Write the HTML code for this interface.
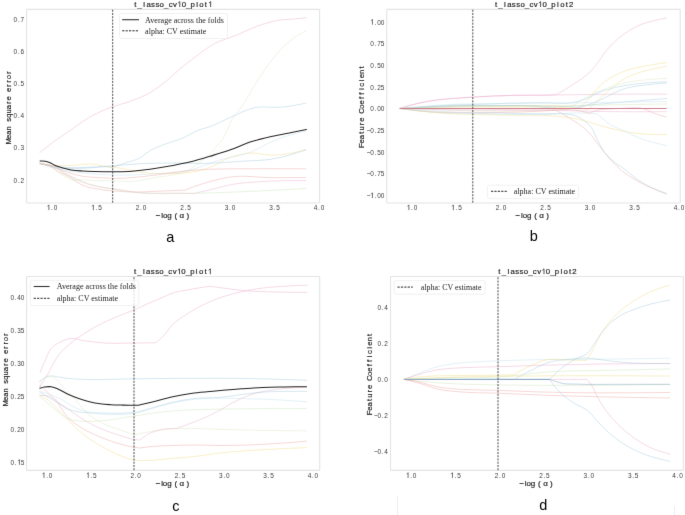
<!DOCTYPE html>
<html><head><meta charset="utf-8"><title>lasso cv plots</title>
<style>
html,body{margin:0;padding:0;background:#fff;}
body{width:685px;height:515px;overflow:hidden;font-family:"Liberation Sans",sans-serif;}
svg{display:block;will-change:transform;}
</style></head><body>
<svg width="685" height="515" viewBox="0 0 685 515">
<defs><filter id="soft" x="0" y="0" width="685" height="515" filterUnits="userSpaceOnUse" color-interpolation-filters="sRGB"><feConvolveMatrix order="3" kernelMatrix="0 1 0 1 10 1 0 1 0" divisor="14" edgeMode="duplicate"/></filter></defs>
<rect width="685" height="515" fill="#fff"/>
<g filter="url(#soft)">
<rect width="685" height="515" fill="#fff"/>
<line x1="26.60" y1="9.40" x2="319.60" y2="9.40" stroke="#e4e4e4" stroke-width="1.1"/>
<line x1="26.60" y1="9.40" x2="26.60" y2="203.00" stroke="#e4e4e4" stroke-width="1.1"/>
<line x1="319.60" y1="9.40" x2="319.60" y2="203.00" stroke="#e4e4e4" stroke-width="1.1"/>
<line x1="26.60" y1="203.00" x2="319.60" y2="203.00" stroke="#ededed" stroke-width="1.7"/>
<path d="M39.90,152.50 C45.31,148.23 50.73,143.95 56.30,139.90 C62.02,135.74 67.97,131.90 73.80,127.90 C78.90,124.40 83.76,120.49 89.10,117.40 C93.35,114.94 97.81,112.79 102.30,110.80 C105.74,109.28 109.25,107.86 112.80,106.60 C117.93,104.78 123.35,103.77 128.50,102.00 C135.59,99.56 142.45,96.43 149.30,93.30 C155.69,88.96 162.08,84.61 168.00,79.70 C172.15,76.25 175.87,72.28 180.00,68.80 C184.73,64.80 189.71,61.08 194.70,57.40 C201.15,52.63 207.46,47.44 214.50,43.70 C221.50,39.98 229.42,38.04 236.80,35.00 C243.48,32.25 249.91,28.82 256.70,26.40 C263.95,23.82 271.41,21.39 279.00,20.20 C283.93,19.43 289.01,19.47 294.00,19.00 C298.10,18.61 302.20,18.16 306.30,17.70" fill="none" stroke="#ecaccb" stroke-width="1.0" stroke-opacity="0.46" stroke-linejoin="round" stroke-linecap="round"/>
<path d="M40.00,163.60 C44.74,164.87 49.48,166.15 53.50,168.70 C55.60,170.03 57.34,171.97 59.40,173.40 C61.25,174.68 63.22,175.81 65.20,176.90 C67.09,177.94 68.99,179.18 71.00,179.80 C74.64,180.92 78.80,179.70 82.70,179.80 C86.60,179.90 90.50,180.23 94.40,180.40 C101.60,180.71 108.80,180.84 116.00,181.00 C121.67,181.13 127.36,181.63 133.00,181.30 C140.73,180.85 148.33,178.77 156.00,177.50 C163.67,176.23 171.50,175.70 179.00,173.70 C181.55,173.02 184.08,172.21 186.60,171.40 C191.88,168.02 197.17,164.64 202.00,160.70 C206.61,156.94 210.96,152.78 215.00,148.40 C217.51,145.67 220.01,142.87 222.20,139.90 C227.58,132.58 228.84,122.51 234.50,115.40 C235.99,113.53 237.77,111.85 239.30,110.00 C245.31,102.74 249.09,93.84 254.20,85.90 C259.04,78.38 263.68,70.69 269.10,63.60 C273.73,57.55 278.44,51.39 284.00,46.20 C287.85,42.61 292.00,39.22 296.40,36.30 C299.56,34.20 302.93,32.40 306.30,30.60" fill="none" stroke="#dde6c2" stroke-width="1.0" stroke-opacity="0.46" stroke-linejoin="round" stroke-linecap="round"/>
<path d="M40.00,163.60 C46.42,165.46 52.84,167.32 59.40,168.10 C65.16,168.79 71.07,168.60 76.90,168.50 C82.74,168.40 88.57,167.87 94.40,167.50 C98.27,167.25 102.14,166.50 106.00,166.70 C108.00,166.81 110.00,167.10 112.00,167.40 C116.44,165.95 120.88,164.50 125.30,163.00 C130.45,161.25 136.03,160.26 140.70,157.60 C143.99,155.73 146.64,152.68 149.90,150.70 C154.15,148.12 158.96,146.44 163.60,144.60 C169.61,142.21 176.04,140.88 182.00,138.40 C187.80,135.99 193.03,132.21 198.90,130.00 C202.51,128.64 206.36,127.89 210.00,126.60 C217.02,124.11 223.54,120.33 230.40,117.40 C238.49,113.94 246.42,109.30 254.90,107.60 C263.42,105.89 272.63,108.00 281.40,107.20 C289.59,106.45 297.69,104.83 305.80,103.20" fill="none" stroke="#a6cadf" stroke-width="1.0" stroke-opacity="0.46" stroke-linejoin="round" stroke-linecap="round"/>
<path d="M40.00,163.60 C44.49,164.21 48.99,164.83 53.50,165.20 C57.39,165.52 61.30,165.83 65.20,165.80 C69.10,165.77 73.00,165.30 76.90,165.00 C80.00,164.76 83.09,164.32 86.20,164.20 C88.93,164.09 91.70,163.88 94.40,164.20 C96.76,164.48 99.05,165.35 101.40,165.80 C106.21,166.72 111.15,166.80 116.00,167.50 C124.29,168.69 132.40,171.15 140.70,172.20 C150.81,173.47 161.10,173.89 171.30,173.70 C176.40,173.61 181.55,173.52 186.60,172.90 C194.52,171.93 202.52,170.13 210.00,167.40 C217.09,164.81 223.26,159.61 230.40,157.20 C236.92,155.01 243.95,153.44 250.80,153.10 C257.55,152.77 264.40,155.10 271.20,155.10 C277.97,155.10 284.83,154.32 291.50,153.10 C296.32,152.22 301.06,150.91 305.80,149.60" fill="none" stroke="#f0dc88" stroke-width="1.0" stroke-opacity="0.46" stroke-linejoin="round" stroke-linecap="round"/>
<path d="M40.00,163.60 C46.44,164.96 52.89,166.32 59.40,167.00 C67.10,167.80 74.94,167.61 82.70,167.50 C91.81,167.38 100.91,166.59 110.00,166.00 C120.24,165.34 130.45,164.20 140.70,163.70 C150.89,163.20 161.10,163.10 171.30,163.00 C184.20,162.88 197.12,163.73 210.00,163.30 C220.21,162.96 230.40,161.98 240.60,161.30 C250.80,160.62 261.15,160.79 271.20,159.20 C282.93,157.34 294.37,153.67 305.80,150.00" fill="none" stroke="#a6cadf" stroke-width="1.0" stroke-opacity="0.46" stroke-linejoin="round" stroke-linecap="round"/>
<path d="M40.00,163.60 C46.42,165.71 52.84,167.82 59.40,169.30 C67.04,171.03 74.90,171.87 82.70,172.80 C88.52,173.50 94.35,174.11 100.20,174.50 C105.46,174.85 110.73,175.02 116.00,175.10 C127.33,175.28 138.69,174.72 150.00,174.00 C163.37,173.15 177.01,172.96 190.00,170.00 C200.22,167.67 209.90,162.98 220.00,160.00 C230.16,157.01 240.99,155.96 250.80,152.10 C257.84,149.33 264.22,144.88 271.20,141.90 C276.53,139.62 281.98,137.56 287.50,135.80 C293.50,133.88 299.65,132.44 305.80,131.00" fill="none" stroke="#c2e0ee" stroke-width="1.0" stroke-opacity="0.46" stroke-linejoin="round" stroke-linecap="round"/>
<path d="M40.00,163.60 C43.39,163.93 46.79,164.26 50.00,165.20 C53.26,166.15 56.23,168.04 59.40,169.30 C63.21,170.82 67.08,172.23 71.00,173.40 C74.84,174.55 78.75,175.63 82.70,176.30 C86.55,176.95 90.49,177.12 94.40,177.40 C98.26,177.68 102.13,177.82 106.00,178.00 C109.33,178.15 112.67,178.37 116.00,178.40 C124.24,178.48 132.49,177.56 140.70,176.80 C150.93,175.85 161.09,174.14 171.30,172.90 C178.96,171.97 186.61,170.84 194.30,170.20 C201.18,169.63 208.10,169.34 215.00,169.10 C223.33,168.81 231.67,168.87 240.00,168.80 C261.93,168.61 283.87,168.70 305.80,168.80" fill="none" stroke="#f0a8a8" stroke-width="1.0" stroke-opacity="0.46" stroke-linejoin="round" stroke-linecap="round"/>
<path d="M40.00,163.60 C43.45,164.14 46.89,164.68 50.00,166.00 C53.40,167.44 56.16,170.31 59.40,172.20 C63.13,174.37 67.34,175.72 71.00,178.00 C73.03,179.26 74.86,180.86 76.90,182.10 C79.48,183.67 82.18,185.15 85.00,186.20 C88.00,187.32 91.24,187.86 94.40,188.50 C98.23,189.28 102.12,189.86 106.00,190.30 C109.32,190.68 112.66,190.86 116.00,191.10 C121.66,191.51 127.33,191.99 133.00,192.10 C140.66,192.25 148.33,191.59 156.00,191.30 C165.70,190.93 175.40,190.52 185.10,190.10 C188.65,188.68 192.20,187.26 195.80,186.00 C200.47,184.36 205.22,182.91 210.00,181.60 C216.72,179.76 223.54,177.98 230.40,177.00 C243.78,175.09 257.60,177.51 271.20,177.60 C282.73,177.68 294.27,177.64 305.80,177.60" fill="none" stroke="#f0a8a8" stroke-width="1.0" stroke-opacity="0.46" stroke-linejoin="round" stroke-linecap="round"/>
<path d="M40.00,163.60 C45.18,164.29 50.37,164.97 55.00,167.00 C58.63,168.59 61.71,171.43 65.20,173.40 C68.99,175.53 72.93,177.42 76.90,179.20 C80.73,180.91 84.61,182.61 88.60,183.90 C92.38,185.12 96.30,186.00 100.20,186.80 C105.41,187.87 110.73,188.32 116.00,189.10 C124.24,190.31 132.43,192.07 140.70,192.80 C150.84,193.69 161.10,193.09 171.30,193.20 C178.97,193.28 186.63,193.34 194.30,193.40 C199.54,192.22 204.78,191.04 210.00,189.80 C216.82,188.18 223.53,186.00 230.40,184.70 C240.45,182.80 250.78,182.31 261.00,181.60 C275.89,180.57 290.85,180.59 305.80,180.60" fill="none" stroke="#e6b0cc" stroke-width="1.0" stroke-opacity="0.46" stroke-linejoin="round" stroke-linecap="round"/>
<path d="M40.00,163.60 C45.18,164.49 50.36,165.37 55.00,167.50 C58.62,169.16 61.71,171.99 65.20,174.00 C68.99,176.19 72.90,178.22 76.90,180.00 C80.71,181.70 84.62,183.27 88.60,184.50 C92.39,185.67 96.30,186.52 100.20,187.30 C105.41,188.34 110.73,188.85 116.00,189.60 C124.23,190.77 132.43,192.30 140.70,193.00 C150.85,193.86 161.10,193.57 171.30,193.60 C184.20,193.64 197.10,193.24 210.00,192.90 C241.95,192.06 273.88,190.23 305.80,188.40" fill="none" stroke="#cde4ba" stroke-width="1.0" stroke-opacity="0.46" stroke-linejoin="round" stroke-linecap="round"/>
<path d="M40.10,161.10 C41.85,161.05 43.61,161.00 45.30,161.30 C46.90,161.59 48.48,162.20 50.00,162.80 C52.04,163.61 53.87,164.95 55.90,165.80 C58.16,166.75 60.54,167.44 62.90,168.10 C65.56,168.84 68.28,169.44 71.00,169.90 C74.86,170.55 78.79,170.73 82.70,171.00 C86.59,171.27 90.50,171.38 94.40,171.50 C98.27,171.62 102.13,171.65 106.00,171.70 C109.33,171.74 112.67,171.82 116.00,171.80 C120.13,171.78 124.27,171.73 128.40,171.50 C135.05,171.13 141.69,170.25 148.30,169.40 C155.99,168.41 163.67,167.18 171.30,165.80 C177.45,164.69 183.63,163.59 189.70,162.10 C193.83,161.09 197.92,159.89 202.00,158.70 C204.67,157.92 207.34,157.11 210.00,156.30 C216.83,154.22 223.68,152.18 230.40,149.80 C237.28,147.36 243.86,144.04 250.80,141.80 C257.47,139.64 264.36,138.08 271.20,136.50 C277.92,134.95 284.73,133.73 291.50,132.40 C296.50,131.42 301.50,130.46 306.50,129.50" fill="none" stroke="#262626" stroke-width="1.05" stroke-linejoin="round" stroke-linecap="round"/>
<line x1="112.7" y1="9.0" x2="112.7" y2="203.2" stroke="#4a4a4a" stroke-width="1" stroke-dasharray="2.05,1.186" stroke-dashoffset="-0.725"/>
<rect x="119.5" y="13.5" width="108.0" height="25.0" rx="2" fill="#fff" fill-opacity="0.8" stroke="#eeeeee" stroke-width="0.8"/>
<line x1="122.2" y1="19.7" x2="139.0" y2="19.7" stroke="#333" stroke-width="1.1"/>
<line x1="122.2" y1="30.8" x2="139.0" y2="30.8" stroke="#222" stroke-width="1" stroke-dasharray="2.2,1.2"/>
<text x="145.1" y="22.7" font-size="8.05" font-family="'Liberation Serif', serif" fill="#1c1c1c" textLength="78.8" lengthAdjust="spacingAndGlyphs">Average across the folds</text>
<text x="145.1" y="33.5" font-size="8.05" font-family="'Liberation Serif', serif" fill="#1c1c1c" textLength="61.3" lengthAdjust="spacingAndGlyphs">alpha: CV estimate</text>
<text x="135.35 139.76 144.16 148.57 152.98 157.38 161.79 166.19 170.60 175.00 179.41 183.81 188.22 192.63 197.03 201.44 205.84 210.25" y="7.0" font-size="7.8" font-family="'Liberation Sans', sans-serif" text-anchor="middle" fill="#1c1c1c" stroke="#1c1c1c" stroke-width="0.18">t_lasso_cv 0_plot </text><polyline points="178.16,3.10 179.80,1.62 179.80,7.00" fill="none" stroke="#1c1c1c" stroke-width="0.78" stroke-linejoin="miter"/><polyline points="209.00,3.10 210.64,1.62 210.64,7.00" fill="none" stroke="#1c1c1c" stroke-width="0.78" stroke-linejoin="miter"/>
<text x="57.12 61.18 65.24" y="210.2" font-size="7.6" font-family="'Liberation Sans', sans-serif" text-anchor="middle" fill="#3a3a3a" transform="scale(0.850,1)"> .0</text><polyline points="47.52,206.35 48.87,204.91 48.87,210.15" fill="none" stroke="#3a3a3a" stroke-width="0.72" stroke-linejoin="miter"/>
<text x="109.47 113.53 117.59" y="210.2" font-size="7.6" font-family="'Liberation Sans', sans-serif" text-anchor="middle" fill="#3a3a3a" transform="scale(0.850,1)"> .5</text><polyline points="92.02,206.35 93.37,204.91 93.37,210.15" fill="none" stroke="#3a3a3a" stroke-width="0.72" stroke-linejoin="miter"/>
<text x="161.82 165.88 169.94" y="210.2" font-size="7.6" font-family="'Liberation Sans', sans-serif" text-anchor="middle" fill="#3a3a3a" transform="scale(0.850,1)">2.0</text>
<text x="214.18 218.24 222.29" y="210.2" font-size="7.6" font-family="'Liberation Sans', sans-serif" text-anchor="middle" fill="#3a3a3a" transform="scale(0.850,1)">2.5</text>
<text x="266.53 270.59 274.65" y="210.2" font-size="7.6" font-family="'Liberation Sans', sans-serif" text-anchor="middle" fill="#3a3a3a" transform="scale(0.850,1)">3.0</text>
<text x="318.88 322.94 327.00" y="210.2" font-size="7.6" font-family="'Liberation Sans', sans-serif" text-anchor="middle" fill="#3a3a3a" transform="scale(0.850,1)">3.5</text>
<text x="371.24 375.29 379.35" y="210.2" font-size="7.6" font-family="'Liberation Sans', sans-serif" text-anchor="middle" fill="#3a3a3a" transform="scale(0.850,1)">4.0</text>
<text x="18.09 22.15 26.21" y="182.7" font-size="7.6" font-family="'Liberation Sans', sans-serif" text-anchor="middle" fill="#3a3a3a" transform="scale(0.850,1)">0.2</text>
<text x="18.09 22.15 26.21" y="150.5" font-size="7.6" font-family="'Liberation Sans', sans-serif" text-anchor="middle" fill="#3a3a3a" transform="scale(0.850,1)">0.3</text>
<text x="18.09 22.15 26.21" y="118.2" font-size="7.6" font-family="'Liberation Sans', sans-serif" text-anchor="middle" fill="#3a3a3a" transform="scale(0.850,1)">0.4</text>
<text x="18.09 22.15 26.21" y="86.1" font-size="7.6" font-family="'Liberation Sans', sans-serif" text-anchor="middle" fill="#3a3a3a" transform="scale(0.850,1)">0.5</text>
<text x="18.09 22.15 26.21" y="53.9" font-size="7.6" font-family="'Liberation Sans', sans-serif" text-anchor="middle" fill="#3a3a3a" transform="scale(0.850,1)">0.6</text>
<text x="18.09 22.15 26.21" y="21.7" font-size="7.6" font-family="'Liberation Sans', sans-serif" text-anchor="middle" fill="#3a3a3a" transform="scale(0.850,1)">0.7</text>
<text x="158.20 162.20 165.20 169.50 175.90 181.90 187.90" y="218.3" font-size="8" font-family="'Liberation Sans', sans-serif" text-anchor="middle" fill="#1c1c1c" stroke="#1c1c1c" stroke-width="0.18">−log(α)</text>
<g transform="translate(10.7,107.0) rotate(-90)"><text x="-34.21 -29.94 -25.66 -21.38 -17.11 -12.83 -8.55 -4.28 0.00 4.28 8.55 12.83 17.11 21.38 25.66 29.94 34.21" y="0.0" font-size="7.7" font-family="'Liberation Sans', sans-serif" text-anchor="middle" fill="#1c1c1c" stroke="#1c1c1c" stroke-width="0.18">Mean square error</text></g>
<text x="170.2" y="241.6" font-size="14.5" font-family="'Liberation Sans', sans-serif" text-anchor="middle" fill="#000">a</text>
<line x1="386.70" y1="9.40" x2="680.20" y2="9.40" stroke="#e4e4e4" stroke-width="1.1"/>
<line x1="386.70" y1="9.40" x2="386.70" y2="203.00" stroke="#e4e4e4" stroke-width="1.1"/>
<line x1="680.20" y1="9.40" x2="680.20" y2="203.00" stroke="#e4e4e4" stroke-width="1.1"/>
<line x1="386.70" y1="203.00" x2="680.20" y2="203.00" stroke="#ededed" stroke-width="1.7"/>
<path d="M399.80,108.50 C405.47,106.73 411.14,104.97 416.90,103.60 C424.10,101.89 431.45,100.63 438.80,99.70 C446.05,98.78 453.40,98.55 460.70,98.00 C464.70,97.70 468.70,97.37 472.70,97.10 C479.63,96.64 486.56,96.30 493.50,96.00 C500.80,95.69 508.10,95.44 515.40,95.30 C525.26,95.10 535.14,95.47 545.00,95.20 C548.67,95.10 552.33,94.95 556.00,94.80 C560.88,92.00 565.76,89.21 570.50,86.20 C574.05,83.95 577.63,81.71 581.00,79.20 C584.66,76.47 588.35,73.68 591.50,70.40 C594.07,67.73 596.24,64.65 598.50,61.70 C601.56,57.70 604.05,53.23 607.30,49.40 C610.49,45.64 614.04,42.10 617.80,38.90 C621.60,35.66 625.71,32.66 630.00,30.10 C633.91,27.76 638.04,25.63 642.30,24.00 C646.26,22.48 650.47,21.54 654.60,20.50 C658.54,19.51 662.52,18.71 666.50,17.90" fill="none" stroke="#ecaccb" stroke-width="1.0" stroke-opacity="0.46" stroke-linejoin="round" stroke-linecap="round"/>
<path d="M399.80,108.50 C405.47,106.73 411.14,104.97 416.90,103.60 C424.10,101.89 431.45,100.63 438.80,99.70 C446.05,98.78 453.40,98.55 460.70,98.00 C464.70,97.70 468.70,97.37 472.70,97.10 C479.63,96.64 486.56,96.30 493.50,96.00 C500.80,95.69 508.10,95.44 515.40,95.30 C525.26,95.10 535.13,95.28 545.00,95.20 C563.33,95.05 581.67,94.49 600.00,94.30 C622.23,94.07 644.47,94.09 666.70,94.10" fill="none" stroke="#ecaccb" stroke-width="1.0" stroke-opacity="0.46" stroke-linejoin="round" stroke-linecap="round"/>
<path d="M399.80,108.50 C409.87,108.13 419.93,107.75 430.00,107.50 C453.32,106.91 476.67,106.97 500.00,107.00 C520.00,107.02 540.04,106.35 560.00,107.50 C566.00,107.84 572.00,108.32 578.00,108.80 C581.45,105.98 584.90,103.16 588.00,100.00 C591.87,96.05 594.54,90.92 598.50,87.10 C602.69,83.06 607.55,79.50 612.60,76.60 C617.00,74.08 621.79,72.04 626.60,70.40 C631.14,68.85 635.90,67.92 640.60,66.90 C645.24,65.89 649.92,65.06 654.60,64.30 C658.55,63.66 662.53,63.13 666.50,62.60" fill="none" stroke="#f0dc88" stroke-width="1.0" stroke-opacity="0.46" stroke-linejoin="round" stroke-linecap="round"/>
<path d="M399.80,108.50 C409.86,107.74 419.93,106.99 430.00,106.50 C453.30,105.37 476.67,105.92 500.00,106.00 C523.33,106.08 546.84,104.38 570.00,107.00 C576.01,107.68 582.01,108.59 588.00,109.50 C591.50,106.34 595.01,103.17 598.50,100.00 C603.21,95.72 607.62,91.04 612.60,87.10 C617.04,83.58 621.58,79.96 626.60,77.40 C631.00,75.15 635.85,73.67 640.60,72.20 C645.19,70.78 649.90,69.73 654.60,68.70 C658.55,67.84 662.52,67.12 666.50,66.40" fill="none" stroke="#f0dc88" stroke-width="1.0" stroke-opacity="0.46" stroke-linejoin="round" stroke-linecap="round"/>
<path d="M399.80,108.50 C413.20,109.06 426.60,109.61 440.00,110.00 C466.66,110.77 493.34,111.24 520.00,111.00 C535.53,110.86 551.07,110.43 566.60,110.00 C574.56,104.52 582.51,99.04 591.10,94.80 C598.00,91.40 605.26,88.52 612.60,86.20 C618.29,84.40 624.13,82.89 630.00,81.80 C635.80,80.73 641.72,80.27 647.60,79.70 C653.89,79.09 660.19,78.69 666.50,78.30" fill="none" stroke="#dde6c2" stroke-width="1.0" stroke-opacity="0.46" stroke-linejoin="round" stroke-linecap="round"/>
<path d="M399.80,108.50 C405.50,108.14 411.20,107.79 416.90,107.40 C424.20,106.90 431.49,106.23 438.80,105.80 C450.09,105.13 461.40,104.89 472.70,104.50 C496.79,103.67 520.90,102.48 545.00,102.60 C553.33,102.64 561.81,104.20 570.00,103.00 C574.31,102.37 578.63,101.29 582.80,100.00 C590.10,97.75 596.55,93.03 603.80,90.60 C609.48,88.70 615.41,87.37 621.30,86.20 C627.08,85.05 632.95,84.28 638.80,83.60 C647.98,82.54 657.24,82.17 666.50,81.80" fill="none" stroke="#a6cadf" stroke-width="1.0" stroke-opacity="0.46" stroke-linejoin="round" stroke-linecap="round"/>
<path d="M399.80,108.50 C413.20,107.75 426.59,107.00 440.00,106.50 C466.65,105.51 493.33,105.54 520.00,105.50 C541.67,105.47 564.57,112.41 585.00,106.00 C590.08,104.41 595.04,102.09 600.00,100.00 C608.45,96.44 616.26,91.04 625.00,88.50 C631.45,86.63 638.30,85.91 645.00,85.00 C652.13,84.04 659.31,83.52 666.50,83.00" fill="none" stroke="#a6cadf" stroke-width="1.0" stroke-opacity="0.46" stroke-linejoin="round" stroke-linecap="round"/>
<path d="M399.80,108.50 C413.20,107.75 426.59,107.00 440.00,106.50 C466.65,105.51 493.33,105.52 520.00,105.50 C540.00,105.49 560.07,107.45 580.00,106.00 C586.67,105.51 593.33,104.62 600.00,104.00 C609.99,103.07 620.00,102.33 630.00,101.50 C642.23,100.49 654.47,99.49 666.70,98.50" fill="none" stroke="#a6cadf" stroke-width="1.0" stroke-opacity="0.46" stroke-linejoin="round" stroke-linecap="round"/>
<path d="M399.80,108.50 C413.19,107.18 426.58,105.86 440.00,105.00 C466.60,103.29 493.33,103.92 520.00,103.50 C546.67,103.08 573.33,102.87 600.00,102.50 C622.23,102.19 644.47,101.85 666.70,101.50" fill="none" stroke="#c2e0ee" stroke-width="1.0" stroke-opacity="0.46" stroke-linejoin="round" stroke-linecap="round"/>
<path d="M399.80,108.50 C413.20,107.95 426.60,107.40 440.00,107.00 C473.32,106.02 506.67,106.47 540.00,106.00 C560.00,105.72 580.00,105.32 600.00,105.00 C622.23,104.65 644.47,104.32 666.70,104.00" fill="none" stroke="#cde4ba" stroke-width="1.0" stroke-opacity="0.46" stroke-linejoin="round" stroke-linecap="round"/>
<path d="M399.80,108.50 C405.49,109.30 411.19,110.10 416.90,110.70 C435.39,112.65 454.10,112.23 472.70,112.40 C488.46,112.55 504.24,112.48 520.00,112.00 C532.01,111.63 544.00,110.97 556.00,110.30 C561.31,113.21 566.62,116.13 571.70,119.40 C575.90,122.10 580.23,124.74 584.00,128.00 C586.66,130.30 589.17,132.85 591.50,135.50 C594.24,138.62 596.45,142.20 599.00,145.50 C602.26,149.72 605.46,154.02 609.00,158.00 C612.91,162.39 616.97,166.78 621.50,170.50 C626.12,174.30 631.31,177.50 636.50,180.50 C641.33,183.29 646.36,185.82 651.50,188.00 C656.34,190.05 661.37,191.68 666.40,193.30" fill="none" stroke="#f0a8a8" stroke-width="1.0" stroke-opacity="0.46" stroke-linejoin="round" stroke-linecap="round"/>
<path d="M399.80,108.50 C409.86,109.82 419.91,111.14 430.00,112.00 C453.23,113.97 476.67,112.62 500.00,113.00 C515.00,113.25 530.00,113.88 545.00,113.80 C550.00,113.77 555.03,113.26 560.00,113.60 C565.88,114.00 572.22,114.08 577.50,116.50 C580.21,117.75 582.84,119.50 585.20,121.40 C587.34,123.12 589.42,125.06 591.10,127.20 C593.74,130.56 594.87,134.99 596.90,138.80 C599.36,143.41 601.52,148.31 604.70,152.40 C607.49,155.98 610.89,159.19 614.40,162.10 C617.43,164.61 620.92,166.56 624.10,168.90 C628.75,172.31 632.92,176.40 637.70,179.60 C642.03,182.50 646.65,185.02 651.30,187.40 C656.21,189.91 661.30,192.06 666.40,194.20" fill="none" stroke="#a6cadf" stroke-width="1.0" stroke-opacity="0.46" stroke-linejoin="round" stroke-linecap="round"/>
<path d="M399.80,108.50 C413.18,110.21 426.57,111.92 440.00,113.00 C459.93,114.60 480.00,114.42 500.00,115.00 C520.00,115.58 540.16,114.15 560.00,116.50 C566.48,117.27 573.03,117.99 579.40,119.40 C585.97,120.86 592.29,123.41 598.80,125.20 C605.26,126.98 611.75,128.72 618.30,130.10 C624.71,131.45 631.20,132.64 637.70,133.40 C647.19,134.52 656.80,134.56 666.40,134.60" fill="none" stroke="#f0dc88" stroke-width="1.0" stroke-opacity="0.46" stroke-linejoin="round" stroke-linecap="round"/>
<path d="M399.80,108.50 C416.53,109.79 433.25,111.08 450.00,112.00 C481.62,113.73 513.35,115.27 545.00,114.50 C556.67,114.22 568.33,112.88 580.00,113.00 C585.63,113.06 591.27,113.33 596.90,113.60 C600.62,117.06 604.34,120.52 608.50,123.30 C613.30,126.50 618.84,128.62 624.10,131.10 C629.86,133.81 635.63,136.61 641.60,138.80 C649.63,141.75 658.01,143.67 666.40,145.60" fill="none" stroke="#c2e0ee" stroke-width="1.0" stroke-opacity="0.46" stroke-linejoin="round" stroke-linecap="round"/>
<path d="M399.80,108.50 C433.20,108.63 466.60,108.76 500.00,109.00 C520.00,109.14 540.03,108.53 560.00,109.50 C566.47,109.82 573.06,109.50 579.40,110.70 C582.67,111.32 585.88,112.26 589.10,113.20 C592.33,112.03 595.57,110.87 598.80,109.70 C605.86,109.19 612.93,108.68 620.00,108.50 C627.83,108.30 636.07,106.69 643.50,108.70 C647.48,109.78 651.16,112.17 655.10,113.60 C658.80,114.94 662.60,116.02 666.40,117.10" fill="none" stroke="#f0a8a8" stroke-width="1.0" stroke-opacity="0.46" stroke-linejoin="round" stroke-linecap="round"/>
<path d="M399.80,108.50 C419.87,109.08 439.93,109.65 460.00,110.00 C493.33,110.58 526.67,109.86 560.00,110.50 C573.33,110.76 586.67,111.28 600.00,111.50 C622.23,111.87 644.46,111.79 666.70,111.70" fill="none" stroke="#e6b0cc" stroke-width="1.0" stroke-opacity="0.46" stroke-linejoin="round" stroke-linecap="round"/>
<line x1="399.8" y1="108.5" x2="666.7" y2="108.5" stroke="#cf7f90" stroke-width="1.1" stroke-opacity="1.0"/>
<line x1="472.8" y1="9.0" x2="472.8" y2="203.2" stroke="#4a4a4a" stroke-width="1" stroke-dasharray="2.05,1.186" stroke-dashoffset="-0.725"/>
<rect x="487.5" y="185.2" width="91.0" height="13.5" rx="2" fill="#fff" fill-opacity="0.8" stroke="#eeeeee" stroke-width="0.8"/>
<line x1="491.0" y1="191.3" x2="506.8" y2="191.3" stroke="#222" stroke-width="1" stroke-dasharray="2.2,1.2"/>
<text x="513.8" y="194.2" font-size="8.05" font-family="'Liberation Serif', serif" fill="#1c1c1c" textLength="61.3" lengthAdjust="spacingAndGlyphs">alpha: CV estimate</text>
<text x="496.06 500.48 504.89 509.31 513.73 518.14 522.56 526.98 531.39 535.81 540.23 544.64 549.06 553.48 557.89 562.31 566.73 571.14" y="7.0" font-size="7.8" font-family="'Liberation Sans', sans-serif" text-anchor="middle" fill="#1c1c1c" stroke="#1c1c1c" stroke-width="0.18">t_lasso_cv 0_plot2</text><polyline points="538.98,3.10 540.62,1.62 540.62,7.00" fill="none" stroke="#1c1c1c" stroke-width="0.78" stroke-linejoin="miter"/>
<text x="480.65 484.71 488.76" y="210.2" font-size="7.6" font-family="'Liberation Sans', sans-serif" text-anchor="middle" fill="#3a3a3a" transform="scale(0.850,1)"> .0</text><polyline points="407.52,206.35 408.87,204.91 408.87,210.15" fill="none" stroke="#3a3a3a" stroke-width="0.72" stroke-linejoin="miter"/>
<text x="533.00 537.06 541.12" y="210.2" font-size="7.6" font-family="'Liberation Sans', sans-serif" text-anchor="middle" fill="#3a3a3a" transform="scale(0.850,1)"> .5</text><polyline points="452.02,206.35 453.37,204.91 453.37,210.15" fill="none" stroke="#3a3a3a" stroke-width="0.72" stroke-linejoin="miter"/>
<text x="585.35 589.41 593.47" y="210.2" font-size="7.6" font-family="'Liberation Sans', sans-serif" text-anchor="middle" fill="#3a3a3a" transform="scale(0.850,1)">2.0</text>
<text x="637.71 641.76 645.82" y="210.2" font-size="7.6" font-family="'Liberation Sans', sans-serif" text-anchor="middle" fill="#3a3a3a" transform="scale(0.850,1)">2.5</text>
<text x="690.06 694.12 698.18" y="210.2" font-size="7.6" font-family="'Liberation Sans', sans-serif" text-anchor="middle" fill="#3a3a3a" transform="scale(0.850,1)">3.0</text>
<text x="742.41 746.47 750.53" y="210.2" font-size="7.6" font-family="'Liberation Sans', sans-serif" text-anchor="middle" fill="#3a3a3a" transform="scale(0.850,1)">3.5</text>
<text x="794.76 798.82 802.88" y="210.2" font-size="7.6" font-family="'Liberation Sans', sans-serif" text-anchor="middle" fill="#3a3a3a" transform="scale(0.850,1)">4.0</text>
<text x="437.79 441.85 445.91 449.97" y="24.6" font-size="7.6" font-family="'Liberation Sans', sans-serif" text-anchor="middle" fill="#3a3a3a" transform="scale(0.850,1)"> .00</text><polyline points="371.09,20.85 372.45,19.41 372.45,24.65" fill="none" stroke="#3a3a3a" stroke-width="0.72" stroke-linejoin="miter"/>
<text x="437.79 441.85 445.91 449.97" y="46.3" font-size="7.6" font-family="'Liberation Sans', sans-serif" text-anchor="middle" fill="#3a3a3a" transform="scale(0.850,1)">0.75</text>
<text x="437.79 441.85 445.91 449.97" y="68.0" font-size="7.6" font-family="'Liberation Sans', sans-serif" text-anchor="middle" fill="#3a3a3a" transform="scale(0.850,1)">0.50</text>
<text x="437.79 441.85 445.91 449.97" y="89.7" font-size="7.6" font-family="'Liberation Sans', sans-serif" text-anchor="middle" fill="#3a3a3a" transform="scale(0.850,1)">0.25</text>
<text x="437.79 441.85 445.91 449.97" y="111.4" font-size="7.6" font-family="'Liberation Sans', sans-serif" text-anchor="middle" fill="#3a3a3a" transform="scale(0.850,1)">0.00</text>
<text x="433.74 437.79 441.85 445.91 449.97" y="133.0" font-size="7.6" font-family="'Liberation Sans', sans-serif" text-anchor="middle" fill="#3a3a3a" transform="scale(0.850,1)">−0.25</text>
<text x="433.74 437.79 441.85 445.91 449.97" y="154.7" font-size="7.6" font-family="'Liberation Sans', sans-serif" text-anchor="middle" fill="#3a3a3a" transform="scale(0.850,1)">−0.50</text>
<text x="433.74 437.79 441.85 445.91 449.97" y="176.4" font-size="7.6" font-family="'Liberation Sans', sans-serif" text-anchor="middle" fill="#3a3a3a" transform="scale(0.850,1)">−0.75</text>
<text x="433.74 437.79 441.85 445.91 449.97" y="198.1" font-size="7.6" font-family="'Liberation Sans', sans-serif" text-anchor="middle" fill="#3a3a3a" transform="scale(0.850,1)">− .00</text><polyline points="371.09,194.25 372.45,192.81 372.45,198.05" fill="none" stroke="#3a3a3a" stroke-width="0.72" stroke-linejoin="miter"/>
<text x="517.95 521.95 524.95 529.25 535.65 541.65 547.65" y="218.3" font-size="8" font-family="'Liberation Sans', sans-serif" text-anchor="middle" fill="#1c1c1c" stroke="#1c1c1c" stroke-width="0.18">−log(α)</text>
<g transform="translate(364.0,106.6) rotate(-90)"><text x="-39.13 -34.78 -30.43 -26.08 -21.74 -17.39 -13.04 -8.69 -4.35 0.00 4.35 8.69 13.04 17.39 21.74 26.08 30.43 34.78 39.13" y="0.0" font-size="7.7" font-family="'Liberation Sans', sans-serif" text-anchor="middle" fill="#1c1c1c" stroke="#1c1c1c" stroke-width="0.18">Feature Coefficient</text></g>
<text x="533.8" y="240.6" font-size="14.5" font-family="'Liberation Sans', sans-serif" text-anchor="middle" fill="#000">b</text>
<line x1="26.60" y1="276.50" x2="319.70" y2="276.50" stroke="#e4e4e4" stroke-width="1.1"/>
<line x1="26.60" y1="276.50" x2="26.60" y2="470.40" stroke="#e4e4e4" stroke-width="1.1"/>
<line x1="319.70" y1="276.50" x2="319.70" y2="470.40" stroke="#e4e4e4" stroke-width="1.1"/>
<line x1="26.60" y1="470.40" x2="319.70" y2="470.40" stroke="#e4e4e4" stroke-width="1.1"/>
<path d="M39.90,386.50 C42.30,383.06 44.69,379.61 46.80,376.00 C48.69,372.76 50.17,369.28 52.00,366.00 C54.13,362.19 56.15,358.23 58.80,354.80 C61.93,350.74 65.90,347.25 69.80,343.90 C74.55,339.82 79.82,336.28 85.10,332.90 C90.72,329.31 96.62,326.07 102.60,323.10 C108.33,320.26 114.29,317.86 120.20,315.40 C124.77,313.50 129.44,311.82 134.00,309.90 C138.91,307.83 143.71,305.50 148.60,303.40 C152.98,301.52 157.46,299.86 161.80,297.90 C164.56,296.65 167.20,295.12 170.00,294.00 C176.91,291.24 184.55,290.48 191.90,289.10 C197.70,288.01 203.55,287.15 209.40,286.30 C215.23,287.03 221.07,287.77 226.90,288.50 C232.73,289.23 238.55,290.16 244.40,290.70 C252.40,291.43 260.46,291.53 268.50,291.80 C273.63,291.97 278.77,292.10 283.90,292.20 C291.57,292.35 299.23,292.37 306.90,292.40" fill="none" stroke="#ecaccb" stroke-width="1.0" stroke-opacity="0.46" stroke-linejoin="round" stroke-linecap="round"/>
<path d="M40.20,372.30 C41.57,368.84 42.95,365.38 44.50,362.00 C46.83,356.94 48.39,350.92 52.30,347.20 C54.70,344.91 57.92,343.13 61.00,341.70 C64.44,340.10 68.29,338.56 72.00,338.40 C75.59,338.25 79.24,340.02 82.90,340.60 C85.82,341.06 88.76,341.36 91.70,341.70 C96.79,342.29 101.89,342.93 107.00,343.20 C112.82,343.50 118.67,343.23 124.50,343.20 C134.93,343.15 145.37,342.98 155.80,342.80 C159.45,339.69 163.11,336.58 166.10,332.90 C167.50,331.18 168.61,329.21 170.00,327.50 C175.73,320.46 184.13,315.75 191.90,311.00 C198.83,306.77 206.26,303.14 213.80,300.10 C220.89,297.24 228.29,295.02 235.70,293.10 C242.90,291.24 250.25,289.80 257.60,288.70 C264.85,287.61 272.19,287.06 279.50,286.50 C288.61,285.80 297.76,285.50 306.90,285.20" fill="none" stroke="#ecaccb" stroke-width="1.0" stroke-opacity="0.46" stroke-linejoin="round" stroke-linecap="round"/>
<path d="M39.50,381.20 C42.58,378.89 45.67,376.57 49.10,376.00 C51.88,375.54 54.98,376.51 57.90,376.90 C60.61,377.26 63.29,377.85 66.00,378.20 C70.21,378.74 74.46,378.93 78.70,379.20 C97.19,380.36 115.77,378.93 134.30,378.80 C162.87,378.60 191.43,378.00 220.00,378.20 C234.23,378.30 248.47,378.46 262.70,378.80 C277.30,379.15 291.90,379.73 306.50,380.30" fill="none" stroke="#a6cadf" stroke-width="1.0" stroke-opacity="0.46" stroke-linejoin="round" stroke-linecap="round"/>
<path d="M39.80,383.00 C41.26,380.86 42.72,378.72 44.70,377.70 C47.12,376.45 50.90,376.30 53.50,377.30 C55.09,377.91 56.61,379.19 57.90,380.40 C59.68,382.08 60.66,384.56 62.20,386.50 C65.74,390.98 70.63,394.29 74.50,398.50 C78.25,402.57 81.10,407.53 85.10,411.30 C89.53,415.48 94.79,419.01 100.10,422.00 C106.74,425.74 114.28,427.91 121.50,430.50 C125.74,432.02 130.02,433.41 134.30,434.80 C147.05,432.23 159.80,429.67 172.70,428.80 C179.80,428.32 186.97,428.35 194.10,428.40 C202.74,428.46 211.37,429.11 220.00,429.40 C248.82,430.37 277.66,430.64 306.50,430.90" fill="none" stroke="#dde6c2" stroke-width="1.0" stroke-opacity="0.46" stroke-linejoin="round" stroke-linecap="round"/>
<path d="M39.60,386.00 C42.01,387.79 44.41,389.57 46.70,391.50 C49.67,394.01 52.57,396.66 55.20,399.50 C60.21,404.92 62.78,412.53 68.00,417.70 C71.21,420.87 74.95,423.66 78.70,426.20 C85.27,430.65 92.76,433.81 100.10,436.90 C107.05,439.83 114.21,442.46 121.50,444.40 C125.71,445.52 130.00,446.47 134.30,447.20 C136.06,447.50 137.83,447.75 139.60,448.00 C143.53,447.44 147.46,446.89 151.40,446.50 C158.47,445.81 165.60,445.75 172.70,445.50 C179.83,445.25 186.97,445.03 194.10,445.00 C202.73,444.96 211.37,445.48 220.00,445.50 C234.23,445.53 248.48,445.10 262.70,444.40 C277.32,443.68 291.91,442.44 306.50,441.20" fill="none" stroke="#f0a8a8" stroke-width="1.0" stroke-opacity="0.46" stroke-linejoin="round" stroke-linecap="round"/>
<path d="M39.80,395.30 C42.92,396.91 46.04,398.52 48.80,400.60 C51.99,403.01 54.55,406.25 57.40,409.10 C60.95,412.65 64.46,416.24 68.00,419.80 C71.56,423.38 74.93,427.18 78.70,430.50 C85.22,436.23 92.62,441.08 100.10,445.50 C106.95,449.55 114.08,453.32 121.50,456.20 C125.68,457.82 129.99,459.11 134.30,460.40 C140.01,460.52 145.71,460.65 151.40,460.40 C158.52,460.09 165.59,458.93 172.70,458.30 C179.83,457.67 186.99,457.36 194.10,456.60 C202.76,455.68 211.35,454.00 220.00,453.00 C234.18,451.36 248.45,450.59 262.70,449.70 C277.29,448.78 291.89,448.19 306.50,447.60" fill="none" stroke="#f0dc88" stroke-width="1.0" stroke-opacity="0.46" stroke-linejoin="round" stroke-linecap="round"/>
<path d="M39.80,395.30 C42.90,395.33 46.01,395.37 48.80,396.30 C51.93,397.35 54.57,399.84 57.40,401.70 C61.00,404.07 64.47,406.63 68.00,409.10 C71.57,411.60 75.05,414.24 78.70,416.60 C85.53,421.02 92.68,425.11 100.10,428.40 C106.99,431.45 114.32,433.55 121.50,435.90 C124.33,436.82 127.12,437.91 130.00,438.60 C133.14,439.35 136.37,439.73 139.60,440.10 C143.39,437.28 147.17,434.46 151.40,432.60 C154.75,431.13 158.40,430.12 162.00,429.40 C166.88,428.42 171.94,428.41 177.00,428.40 C182.72,426.31 188.43,424.22 194.10,422.00 C197.68,420.60 201.29,419.27 204.80,417.70 C208.43,416.08 211.93,414.15 215.50,412.40 C217.00,411.66 218.52,410.97 220.00,410.20 C223.69,408.29 227.05,405.79 230.70,403.80 C234.19,401.90 237.77,400.13 241.40,398.50 C244.88,396.94 248.40,395.40 252.00,394.20 C258.88,391.91 266.22,391.01 273.40,389.90 C284.33,388.21 295.41,387.66 306.50,387.10" fill="none" stroke="#e6b0cc" stroke-width="1.0" stroke-opacity="0.46" stroke-linejoin="round" stroke-linecap="round"/>
<path d="M39.80,392.00 C45.66,395.57 51.53,399.14 57.40,402.70 C60.93,404.84 64.22,407.54 68.00,409.10 C71.37,410.49 75.09,411.22 78.70,411.90 C85.69,413.22 92.96,412.82 100.10,413.00 C111.49,413.28 122.98,413.72 134.30,412.40 C136.07,412.19 137.83,411.95 139.60,411.70 C143.53,410.48 147.45,409.26 151.40,408.10 C158.46,406.03 165.53,403.91 172.70,402.30 C179.76,400.72 186.92,399.33 194.10,398.50 C202.67,397.51 211.40,398.18 220.00,397.40 C227.16,396.75 234.26,395.49 241.40,394.60 C248.49,393.72 255.58,392.63 262.70,392.10 C269.81,391.57 276.96,391.52 284.10,391.40 C291.56,391.28 299.03,391.34 306.50,391.40" fill="none" stroke="#a6cadf" stroke-width="1.0" stroke-opacity="0.46" stroke-linejoin="round" stroke-linecap="round"/>
<path d="M39.80,391.00 C45.75,392.94 51.71,394.89 57.40,397.40 C64.79,400.66 71.18,406.30 78.70,409.10 C85.49,411.63 92.89,413.05 100.10,414.00 C111.33,415.48 122.81,414.49 134.30,413.50 C140.00,411.85 145.69,410.20 151.40,408.60 C158.49,406.61 165.52,404.36 172.70,402.80 C179.75,401.27 186.92,400.07 194.10,399.30 C201.03,398.56 208.03,398.36 215.00,398.20 C223.33,398.01 231.67,398.34 240.00,398.50 C247.57,398.65 255.14,398.82 262.70,399.10 C277.31,399.65 291.91,400.68 306.50,401.70" fill="none" stroke="#c2e0ee" stroke-width="1.0" stroke-opacity="0.46" stroke-linejoin="round" stroke-linecap="round"/>
<path d="M39.80,396.30 C45.53,401.48 51.26,406.65 57.40,411.30 C60.85,413.91 64.08,417.21 68.00,418.80 C71.29,420.14 75.11,420.44 78.70,420.90 C85.74,421.81 92.99,421.29 100.10,420.90 C111.57,420.28 122.91,417.70 134.30,416.00 C140.00,415.15 145.69,414.18 151.40,413.40 C158.48,412.43 165.58,411.50 172.70,410.90 C179.81,410.30 186.96,410.09 194.10,409.80 C202.73,409.45 211.37,409.29 220.00,409.10 C248.83,408.47 277.66,408.58 306.50,408.70" fill="none" stroke="#cde4ba" stroke-width="1.0" stroke-opacity="0.46" stroke-linejoin="round" stroke-linecap="round"/>
<path d="M39.80,388.20 C41.36,387.78 42.92,387.35 44.50,387.10 C46.64,386.76 48.88,386.44 51.00,386.70 C53.19,386.97 55.31,387.98 57.40,388.80 C61.08,390.24 64.39,392.56 68.00,394.20 C71.50,395.79 75.07,397.24 78.70,398.50 C82.21,399.72 85.79,400.81 89.40,401.70 C92.92,402.57 96.51,403.30 100.10,403.80 C103.64,404.29 107.23,404.48 110.80,404.70 C114.36,404.92 117.93,404.99 121.50,405.10 C124.33,405.18 127.17,405.27 130.00,405.30 C132.67,405.33 135.33,405.32 138.00,405.30 C142.47,404.33 146.95,403.36 151.40,402.30 C158.53,400.61 165.54,398.34 172.70,396.80 C179.77,395.28 186.93,394.07 194.10,393.10 C201.20,392.14 208.36,391.66 215.50,391.00 C224.13,390.20 232.76,389.44 241.40,388.80 C248.50,388.27 255.59,387.72 262.70,387.40 C269.83,387.08 276.97,387.02 284.10,386.90 C291.57,386.78 299.03,386.74 306.50,386.70" fill="none" stroke="#262626" stroke-width="1.05" stroke-linejoin="round" stroke-linecap="round"/>
<line x1="134.0" y1="276.0" x2="134.0" y2="470.6" stroke="#4a4a4a" stroke-width="1" stroke-dasharray="2.05,1.186" stroke-dashoffset="-1.250"/>
<rect x="30.4" y="280.4" width="108.4" height="25.2" rx="2" fill="#fff" fill-opacity="0.8" stroke="#eeeeee" stroke-width="0.8"/>
<line x1="33.7" y1="286.5" x2="49.6" y2="286.5" stroke="#333" stroke-width="1.1"/>
<line x1="33.7" y1="298.3" x2="49.6" y2="298.3" stroke="#222" stroke-width="1" stroke-dasharray="2.2,1.2"/>
<text x="56.7" y="289.4" font-size="8.05" font-family="'Liberation Serif', serif" fill="#1c1c1c" textLength="79.3" lengthAdjust="spacingAndGlyphs">Average across the folds</text>
<text x="56.7" y="301.1" font-size="8.05" font-family="'Liberation Serif', serif" fill="#1c1c1c" textLength="61.3" lengthAdjust="spacingAndGlyphs">alpha: CV estimate</text>
<text x="135.05 139.46 143.86 148.27 152.68 157.08 161.49 165.89 170.30 174.70 179.11 183.51 187.92 192.33 196.73 201.14 205.54 209.95" y="274.2" font-size="7.8" font-family="'Liberation Sans', sans-serif" text-anchor="middle" fill="#1c1c1c" stroke="#1c1c1c" stroke-width="0.18">t_lasso_cv 0_plot </text><polyline points="177.86,270.30 179.50,268.82 179.50,274.20" fill="none" stroke="#1c1c1c" stroke-width="0.78" stroke-linejoin="miter"/><polyline points="208.70,270.30 210.34,268.82 210.34,274.20" fill="none" stroke="#1c1c1c" stroke-width="0.78" stroke-linejoin="miter"/>
<text x="51.35 55.41 59.47" y="477.9" font-size="7.6" font-family="'Liberation Sans', sans-serif" text-anchor="middle" fill="#3a3a3a" transform="scale(0.850,1)"> .0</text><polyline points="42.62,474.15 43.97,472.71 43.97,477.95" fill="none" stroke="#3a3a3a" stroke-width="0.72" stroke-linejoin="miter"/>
<text x="103.47 107.53 111.59" y="477.9" font-size="7.6" font-family="'Liberation Sans', sans-serif" text-anchor="middle" fill="#3a3a3a" transform="scale(0.850,1)"> .5</text><polyline points="86.92,474.15 88.27,472.71 88.27,477.95" fill="none" stroke="#3a3a3a" stroke-width="0.72" stroke-linejoin="miter"/>
<text x="155.59 159.65 163.71" y="477.9" font-size="7.6" font-family="'Liberation Sans', sans-serif" text-anchor="middle" fill="#3a3a3a" transform="scale(0.850,1)">2.0</text>
<text x="207.71 211.76 215.82" y="477.9" font-size="7.6" font-family="'Liberation Sans', sans-serif" text-anchor="middle" fill="#3a3a3a" transform="scale(0.850,1)">2.5</text>
<text x="259.82 263.88 267.94" y="477.9" font-size="7.6" font-family="'Liberation Sans', sans-serif" text-anchor="middle" fill="#3a3a3a" transform="scale(0.850,1)">3.0</text>
<text x="311.94 316.00 320.06" y="477.9" font-size="7.6" font-family="'Liberation Sans', sans-serif" text-anchor="middle" fill="#3a3a3a" transform="scale(0.850,1)">3.5</text>
<text x="364.06 368.12 372.18" y="477.9" font-size="7.6" font-family="'Liberation Sans', sans-serif" text-anchor="middle" fill="#3a3a3a" transform="scale(0.850,1)">4.0</text>
<text x="14.38 18.44 22.50 26.56" y="464.8" font-size="7.6" font-family="'Liberation Sans', sans-serif" text-anchor="middle" fill="#3a3a3a" transform="scale(0.850,1)">0. 5</text><polyline points="18.09,461.05 19.45,459.61 19.45,464.85" fill="none" stroke="#3a3a3a" stroke-width="0.72" stroke-linejoin="miter"/>
<text x="14.38 18.44 22.50 26.56" y="431.8" font-size="7.6" font-family="'Liberation Sans', sans-serif" text-anchor="middle" fill="#3a3a3a" transform="scale(0.850,1)">0.20</text>
<text x="14.38 18.44 22.50 26.56" y="398.8" font-size="7.6" font-family="'Liberation Sans', sans-serif" text-anchor="middle" fill="#3a3a3a" transform="scale(0.850,1)">0.25</text>
<text x="14.38 18.44 22.50 26.56" y="365.8" font-size="7.6" font-family="'Liberation Sans', sans-serif" text-anchor="middle" fill="#3a3a3a" transform="scale(0.850,1)">0.30</text>
<text x="14.38 18.44 22.50 26.56" y="332.9" font-size="7.6" font-family="'Liberation Sans', sans-serif" text-anchor="middle" fill="#3a3a3a" transform="scale(0.850,1)">0.35</text>
<text x="14.38 18.44 22.50 26.56" y="299.8" font-size="7.6" font-family="'Liberation Sans', sans-serif" text-anchor="middle" fill="#3a3a3a" transform="scale(0.850,1)">0.40</text>
<text x="158.10 162.10 165.10 169.40 175.80 181.80 187.80" y="486.3" font-size="8" font-family="'Liberation Sans', sans-serif" text-anchor="middle" fill="#1c1c1c" stroke="#1c1c1c" stroke-width="0.18">−log(α)</text>
<g transform="translate(7.8,369.0) rotate(-90)"><text x="-34.26 -29.98 -25.69 -21.41 -17.13 -12.85 -8.56 -4.28 0.00 4.28 8.56 12.85 17.13 21.41 25.69 29.98 34.26" y="0.0" font-size="7.7" font-family="'Liberation Sans', sans-serif" text-anchor="middle" fill="#1c1c1c" stroke="#1c1c1c" stroke-width="0.18">Mean square error</text></g>
<text x="175.9" y="510.6" font-size="14.5" font-family="'Liberation Sans', sans-serif" text-anchor="middle" fill="#000">c</text>
<line x1="390.50" y1="276.50" x2="683.30" y2="276.50" stroke="#e4e4e4" stroke-width="1.1"/>
<line x1="390.50" y1="276.50" x2="390.50" y2="470.40" stroke="#e4e4e4" stroke-width="1.1"/>
<line x1="683.30" y1="276.50" x2="683.30" y2="470.40" stroke="#e4e4e4" stroke-width="1.1"/>
<line x1="390.50" y1="470.40" x2="683.30" y2="470.40" stroke="#e4e4e4" stroke-width="1.1"/>
<path d="M404.20,379.40 C408.41,377.55 412.63,375.70 416.90,374.00 C424.09,371.14 431.32,368.14 438.80,366.30 C445.94,364.54 453.37,363.80 460.70,363.00 C467.97,362.21 475.29,361.90 482.60,361.50 C487.70,361.22 492.80,361.01 497.90,360.80 C513.59,360.16 529.30,359.87 545.00,359.60 C563.33,359.29 581.67,359.39 600.00,359.20 C623.27,358.96 646.53,358.58 669.80,358.20" fill="none" stroke="#c2e0ee" stroke-width="1.0" stroke-opacity="0.46" stroke-linejoin="round" stroke-linecap="round"/>
<path d="M404.20,379.40 C408.41,377.86 412.62,376.32 416.90,375.00 C424.08,372.79 431.40,370.80 438.80,369.60 C446.01,368.43 453.39,368.26 460.70,367.80 C473.08,367.02 485.50,367.08 497.90,366.70 C513.60,366.22 529.30,365.63 545.00,365.20 C563.33,364.70 581.66,364.28 600.00,364.00 C623.26,363.64 646.53,363.57 669.80,363.50" fill="none" stroke="#ecaccb" stroke-width="1.0" stroke-opacity="0.46" stroke-linejoin="round" stroke-linecap="round"/>
<path d="M404.20,379.40 C409.46,378.51 414.72,377.63 420.00,377.00 C433.23,375.43 446.66,375.80 460.00,375.50 C472.63,375.22 485.27,375.51 497.90,375.20 C503.17,375.07 508.43,374.89 513.70,374.70 C519.05,371.61 524.39,368.51 530.00,366.00 C535.63,363.48 541.41,360.58 547.40,359.60 C553.09,358.66 559.13,359.78 565.00,359.90 C572.10,360.04 579.20,360.22 586.30,360.40 C588.64,356.84 590.98,353.28 593.10,349.60 C596.14,344.31 598.09,338.37 601.30,333.20 C604.29,328.38 607.74,323.75 611.50,319.50 C614.65,315.95 618.06,312.55 621.70,309.50 C624.94,306.78 628.47,304.35 632.00,302.00 C635.31,299.80 638.71,297.69 642.20,295.80 C646.18,293.64 650.29,291.66 654.50,290.00 C659.45,288.05 664.63,286.68 669.80,285.30" fill="none" stroke="#f0dc88" stroke-width="1.0" stroke-opacity="0.46" stroke-linejoin="round" stroke-linecap="round"/>
<path d="M404.20,379.40 C441.03,379.33 477.87,379.27 514.70,379.20 C519.76,376.39 524.83,373.59 530.00,371.00 C536.39,367.81 542.71,364.05 549.50,362.10 C556.06,360.22 563.14,360.02 570.00,359.30 C575.42,358.73 580.88,357.87 586.30,358.00 C591.31,358.12 596.30,359.20 601.30,359.80 C608.10,360.61 614.89,361.58 621.70,362.20 C637.66,363.64 653.73,363.57 669.80,363.50" fill="none" stroke="#a6cadf" stroke-width="1.0" stroke-opacity="0.46" stroke-linejoin="round" stroke-linecap="round"/>
<path d="M404.20,379.40 C452.63,379.40 501.07,379.40 549.50,379.40 C553.00,375.77 556.51,372.14 560.40,369.00 C565.43,364.95 571.08,361.53 576.80,358.50 C580.11,356.74 584.21,356.04 587.00,353.70 C589.53,351.58 591.13,348.27 593.10,345.50 C595.96,341.49 598.28,337.07 601.30,333.20 C604.40,329.23 607.70,325.28 611.50,322.00 C614.63,319.29 618.11,316.86 621.70,314.80 C626.17,312.24 631.15,310.50 636.00,308.70 C641.36,306.71 646.86,305.02 652.40,303.60 C658.12,302.13 663.96,301.12 669.80,300.10" fill="none" stroke="#a6cadf" stroke-width="1.0" stroke-opacity="0.46" stroke-linejoin="round" stroke-linecap="round"/>
<path d="M404.20,379.40 C416.13,378.88 428.06,378.37 440.00,378.00 C459.99,377.39 480.06,378.33 500.00,377.00 C515.70,375.95 531.29,373.09 547.00,372.00 C564.62,370.78 582.33,370.95 600.00,370.50 C623.26,369.91 646.53,369.45 669.80,369.00" fill="none" stroke="#cde4ba" stroke-width="1.0" stroke-opacity="0.46" stroke-linejoin="round" stroke-linecap="round"/>
<path d="M404.20,379.40 C422.80,378.48 441.39,377.55 460.00,377.00 C473.33,376.61 486.67,376.40 500.00,376.20 C516.50,375.96 533.00,375.89 549.50,375.80 C589.60,375.59 629.70,375.79 669.80,376.00" fill="none" stroke="#f0dc88" stroke-width="1.0" stroke-opacity="0.46" stroke-linejoin="round" stroke-linecap="round"/>
<path d="M404.20,379.40 C408.43,379.96 412.66,380.52 416.90,381.00 C431.21,382.62 445.62,383.35 460.00,384.00 C472.62,384.57 485.27,384.68 497.90,384.90 C515.10,385.21 532.30,385.32 549.50,385.40 C589.60,385.58 629.70,385.04 669.80,384.50" fill="none" stroke="#cde4ba" stroke-width="1.0" stroke-opacity="0.46" stroke-linejoin="round" stroke-linecap="round"/>
<path d="M404.20,379.40 C408.45,380.08 412.69,380.75 416.90,381.60 C424.27,383.08 431.40,385.81 438.80,387.10 C446.01,388.35 453.39,388.76 460.70,389.30 C473.06,390.22 485.50,390.00 497.90,390.40 C513.60,390.91 529.30,391.67 545.00,392.10 C586.58,393.23 628.19,392.86 669.80,392.50" fill="none" stroke="#f0a8a8" stroke-width="1.0" stroke-opacity="0.46" stroke-linejoin="round" stroke-linecap="round"/>
<path d="M404.20,379.40 C408.45,380.39 412.69,381.37 416.90,382.50 C424.28,384.48 431.35,387.73 438.80,389.30 C445.96,390.81 453.38,391.26 460.70,391.90 C473.05,392.98 485.50,392.73 497.90,393.20 C513.60,393.80 529.30,394.62 545.00,395.20 C586.58,396.74 628.19,397.37 669.80,398.00" fill="none" stroke="#f0a8a8" stroke-width="1.0" stroke-opacity="0.46" stroke-linejoin="round" stroke-linecap="round"/>
<path d="M549.50,379.40 C562.00,379.40 574.50,379.40 587.00,379.40 C588.43,380.99 589.87,382.58 591.10,384.30 C593.75,388.00 594.99,392.60 597.20,396.60 C599.71,401.16 602.37,405.69 605.40,409.90 C609.06,414.99 613.26,419.78 617.70,424.20 C622.13,428.61 626.96,432.70 632.00,436.40 C637.15,440.18 642.59,443.78 648.30,446.60 C655.07,449.95 662.44,452.07 669.80,454.20" fill="none" stroke="#ecaccb" stroke-width="1.0" stroke-opacity="0.46" stroke-linejoin="round" stroke-linecap="round"/>
<path d="M549.50,379.40 C551.67,382.48 553.84,385.57 556.30,388.40 C558.83,391.31 561.55,394.13 564.50,396.60 C568.25,399.73 572.55,402.26 576.80,404.70 C580.11,406.59 583.96,407.70 587.00,409.90 C591.03,412.81 593.72,417.44 597.20,421.10 C601.20,425.30 605.12,429.62 609.50,433.40 C613.35,436.72 617.46,439.80 621.70,442.60 C626.90,446.04 632.45,449.10 638.10,451.70 C648.09,456.29 658.94,458.85 669.80,461.40" fill="none" stroke="#a6cadf" stroke-width="1.0" stroke-opacity="0.46" stroke-linejoin="round" stroke-linecap="round"/>
<path d="M549.50,379.40 C551.66,380.12 553.82,380.84 556.00,381.50 C558.32,382.21 560.63,383.04 563.00,383.50 C566.91,384.26 571.00,383.94 575.00,384.10 C589.99,384.71 605.00,384.26 620.00,384.30 C636.60,384.34 653.20,384.32 669.80,384.30" fill="none" stroke="#8fb0cc" stroke-width="1.0" stroke-opacity="0.55" stroke-linejoin="round" stroke-linecap="round"/>
<line x1="404.2" y1="379.4" x2="549.5" y2="379.4" stroke="#86a4c2" stroke-width="1.0" stroke-opacity="1.0"/>
<line x1="498.0" y1="276.0" x2="498.0" y2="470.6" stroke="#4a4a4a" stroke-width="1" stroke-dasharray="2.05,1.186" stroke-dashoffset="-1.250"/>
<rect x="394.1" y="280.6" width="91.0" height="13.5" rx="2" fill="#fff" fill-opacity="0.8" stroke="#eeeeee" stroke-width="0.8"/>
<line x1="397.5" y1="287.1" x2="412.8" y2="287.1" stroke="#222" stroke-width="1" stroke-dasharray="2.2,1.2"/>
<text x="420.8" y="290.0" font-size="8.05" font-family="'Liberation Serif', serif" fill="#1c1c1c" textLength="60.6" lengthAdjust="spacingAndGlyphs">alpha: CV estimate</text>
<text x="499.46 503.88 508.29 512.71 517.12 521.54 525.96 530.38 534.79 539.21 543.62 548.04 552.46 556.88 561.29 565.71 570.12 574.54" y="274.2" font-size="7.8" font-family="'Liberation Sans', sans-serif" text-anchor="middle" fill="#1c1c1c" stroke="#1c1c1c" stroke-width="0.18">t_lasso_cv 0_plot2</text><polyline points="542.38,270.30 544.01,268.82 544.01,274.20" fill="none" stroke="#1c1c1c" stroke-width="0.78" stroke-linejoin="miter"/>
<text x="479.71 483.76 487.82" y="477.9" font-size="7.6" font-family="'Liberation Sans', sans-serif" text-anchor="middle" fill="#3a3a3a" transform="scale(0.850,1)"> .0</text><polyline points="406.72,474.15 408.07,472.71 408.07,477.95" fill="none" stroke="#3a3a3a" stroke-width="0.72" stroke-linejoin="miter"/>
<text x="531.94 536.00 540.06" y="477.9" font-size="7.6" font-family="'Liberation Sans', sans-serif" text-anchor="middle" fill="#3a3a3a" transform="scale(0.850,1)"> .5</text><polyline points="451.12,474.15 452.47,472.71 452.47,477.95" fill="none" stroke="#3a3a3a" stroke-width="0.72" stroke-linejoin="miter"/>
<text x="584.18 588.24 592.29" y="477.9" font-size="7.6" font-family="'Liberation Sans', sans-serif" text-anchor="middle" fill="#3a3a3a" transform="scale(0.850,1)">2.0</text>
<text x="636.41 640.47 644.53" y="477.9" font-size="7.6" font-family="'Liberation Sans', sans-serif" text-anchor="middle" fill="#3a3a3a" transform="scale(0.850,1)">2.5</text>
<text x="688.65 692.71 696.76" y="477.9" font-size="7.6" font-family="'Liberation Sans', sans-serif" text-anchor="middle" fill="#3a3a3a" transform="scale(0.850,1)">3.0</text>
<text x="740.88 744.94 749.00" y="477.9" font-size="7.6" font-family="'Liberation Sans', sans-serif" text-anchor="middle" fill="#3a3a3a" transform="scale(0.850,1)">3.5</text>
<text x="793.12 797.18 801.24" y="477.9" font-size="7.6" font-family="'Liberation Sans', sans-serif" text-anchor="middle" fill="#3a3a3a" transform="scale(0.850,1)">4.0</text>
<text x="446.21 450.26 454.32" y="310.3" font-size="7.6" font-family="'Liberation Sans', sans-serif" text-anchor="middle" fill="#3a3a3a" transform="scale(0.850,1)">0.4</text>
<text x="446.21 450.26 454.32" y="346.2" font-size="7.6" font-family="'Liberation Sans', sans-serif" text-anchor="middle" fill="#3a3a3a" transform="scale(0.850,1)">0.2</text>
<text x="446.21 450.26 454.32" y="382.1" font-size="7.6" font-family="'Liberation Sans', sans-serif" text-anchor="middle" fill="#3a3a3a" transform="scale(0.850,1)">0.0</text>
<text x="442.15 446.21 450.26 454.32" y="418.0" font-size="7.6" font-family="'Liberation Sans', sans-serif" text-anchor="middle" fill="#3a3a3a" transform="scale(0.850,1)">−0.2</text>
<text x="442.15 446.21 450.26 454.32" y="453.9" font-size="7.6" font-family="'Liberation Sans', sans-serif" text-anchor="middle" fill="#3a3a3a" transform="scale(0.850,1)">−0.4</text>
<text x="521.75 525.75 528.75 533.05 539.45 545.45 551.45" y="486.3" font-size="8" font-family="'Liberation Sans', sans-serif" text-anchor="middle" fill="#1c1c1c" stroke="#1c1c1c" stroke-width="0.18">−log(α)</text>
<g transform="translate(372.0,373.9) rotate(-90)"><text x="-39.08 -34.74 -30.39 -26.05 -21.71 -17.37 -13.03 -8.68 -4.34 0.00 4.34 8.68 13.03 17.37 21.71 26.05 30.39 34.74 39.08" y="0.0" font-size="7.7" font-family="'Liberation Sans', sans-serif" text-anchor="middle" fill="#1c1c1c" stroke="#1c1c1c" stroke-width="0.18">Feature Coefficient</text></g>
<text x="543.4" y="510.3" font-size="14.5" font-family="'Liberation Sans', sans-serif" text-anchor="middle" fill="#000">d</text>
<line x1="397.5" y1="495.8" x2="397.5" y2="515" stroke="#eeeeee" stroke-width="1"/>
<line x1="674.5" y1="505.7" x2="674.5" y2="515" stroke="#eeeeee" stroke-width="1"/>
</g>
</svg>
</body></html>
